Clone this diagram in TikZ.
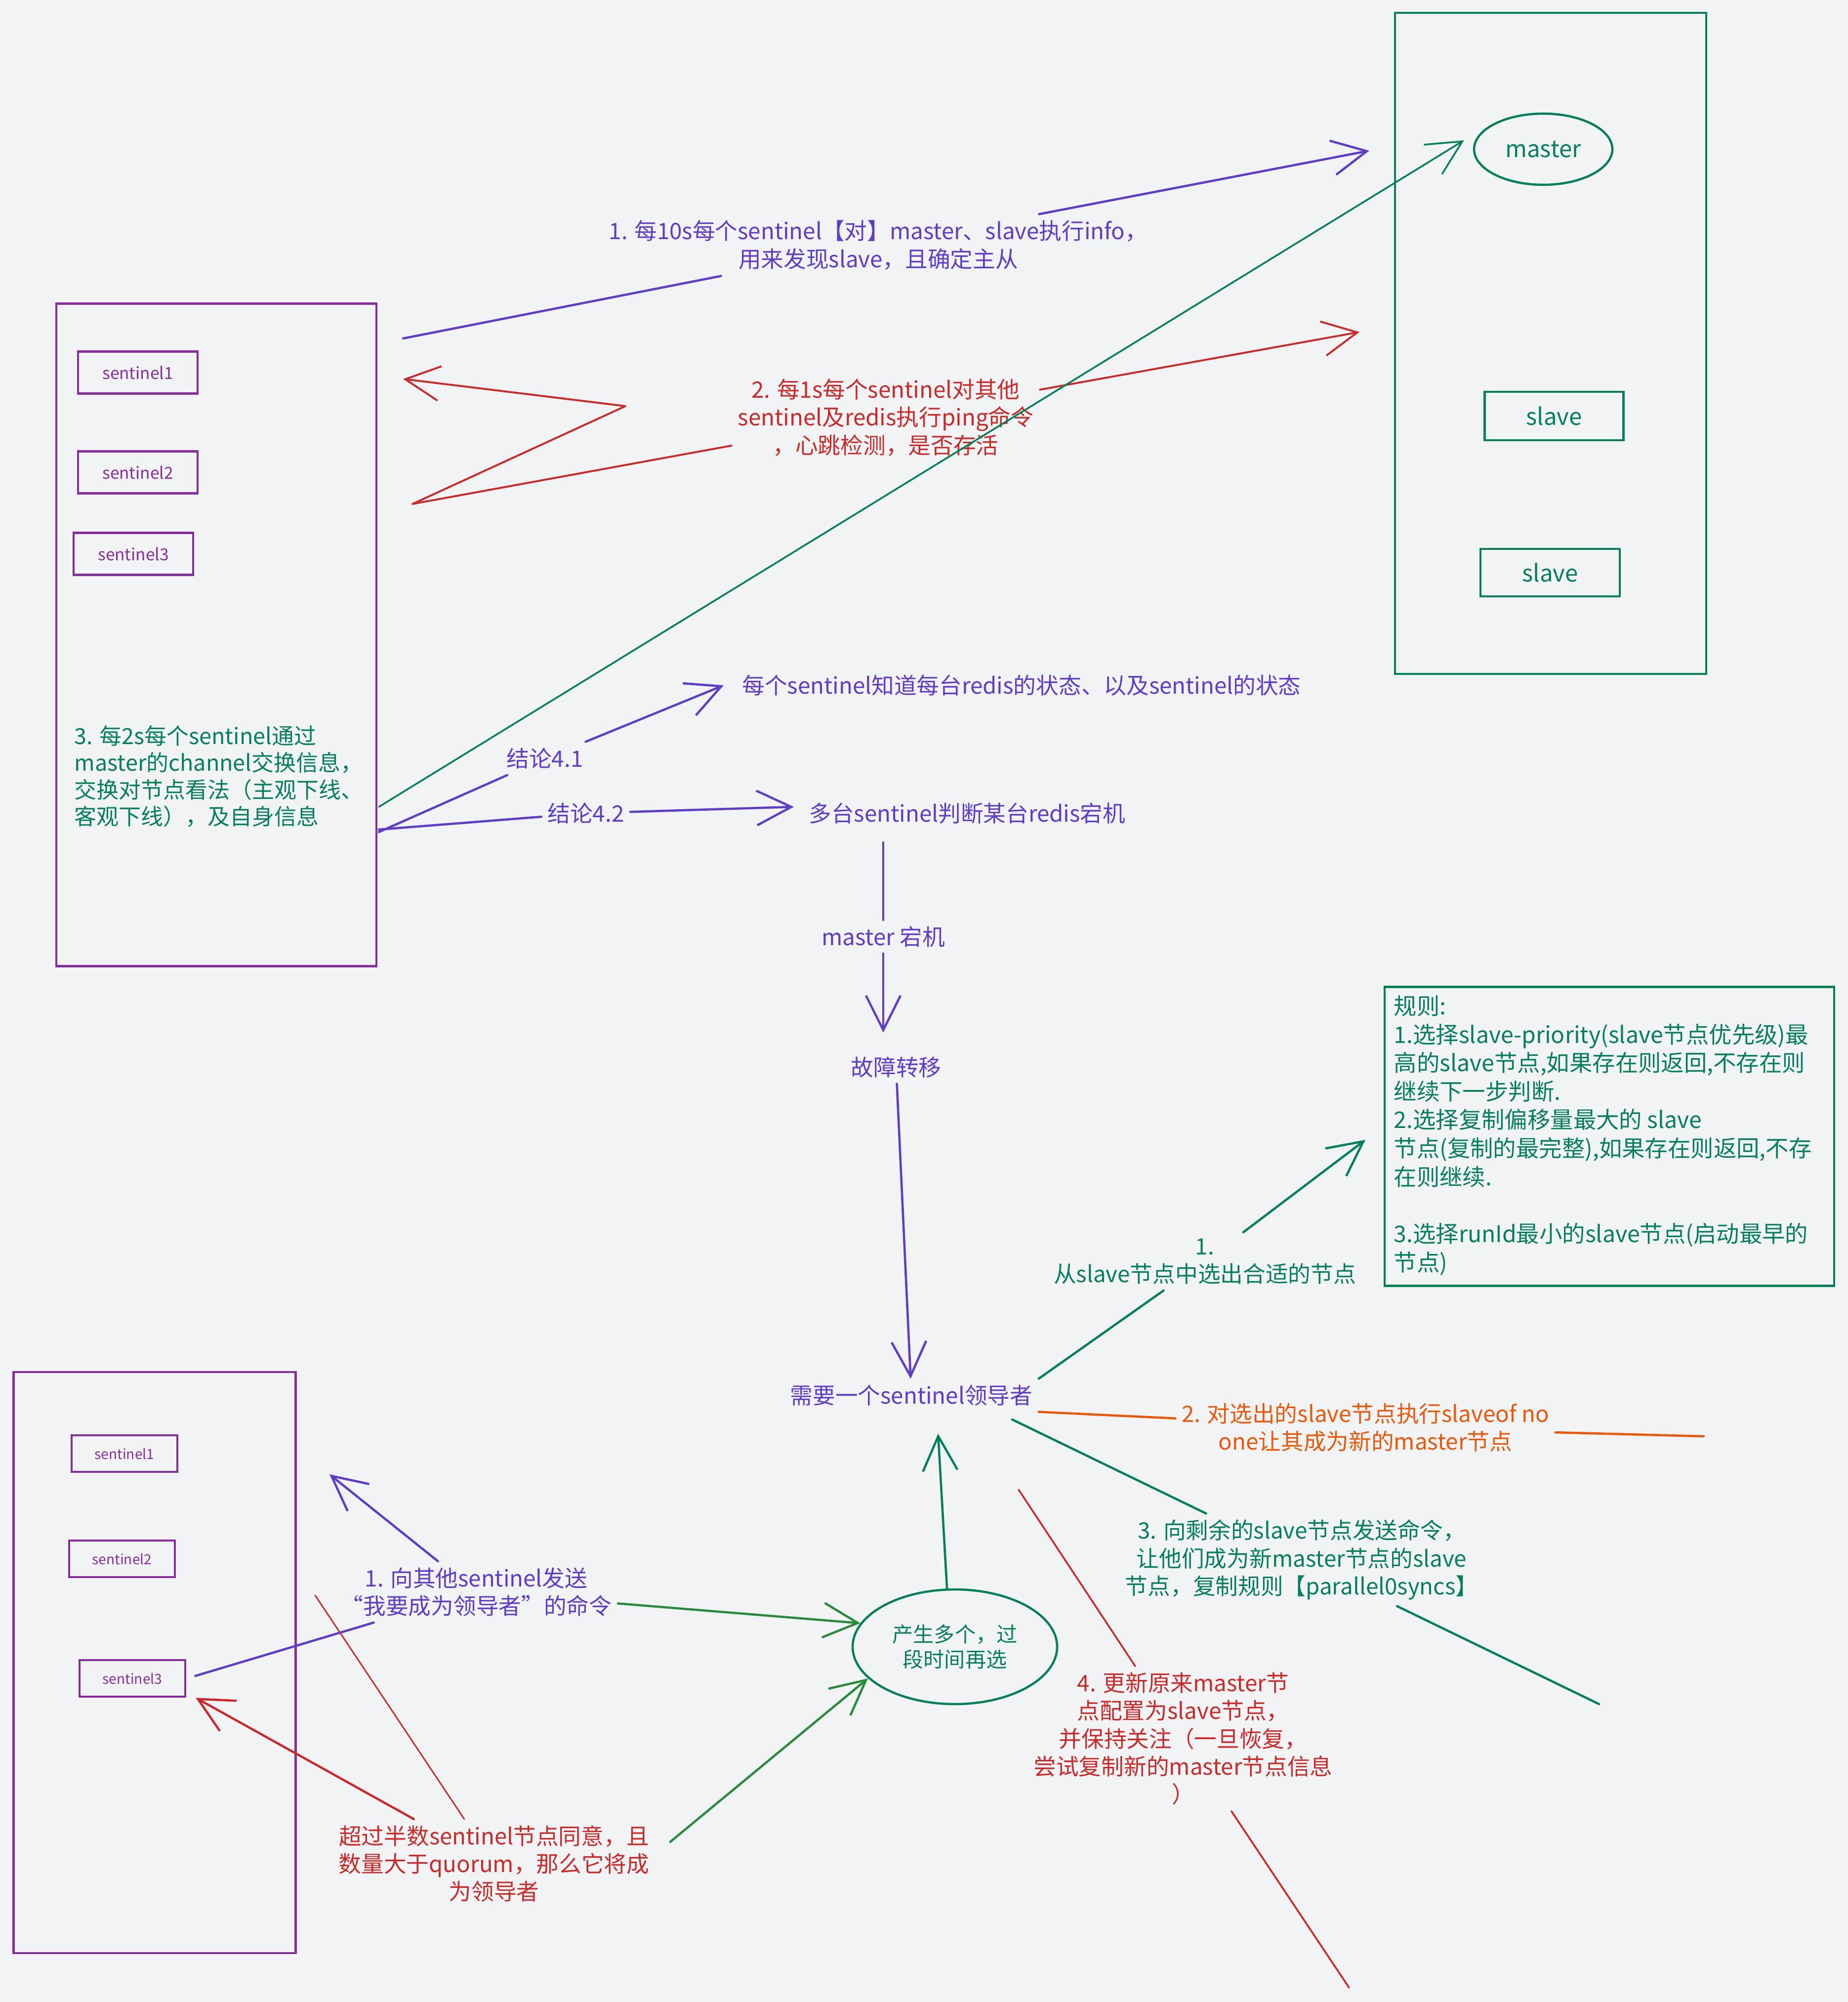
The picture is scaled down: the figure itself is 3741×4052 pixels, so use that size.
\documentclass[tikz,border=0pt]{standalone}
\usepackage{fontspec}
\setmainfont{Noto Sans CJK SC}
\usetikzlibrary{arrows.meta,shapes.geometric,calc}
\definecolor{bg}{HTML}{F1F3F5}
\definecolor{vio}{HTML}{5F3DC4}
\definecolor{grape}{HTML}{862E9C}
\definecolor{tealg}{HTML}{087F5B}
\definecolor{grn}{HTML}{2B8A3E}
\definecolor{rd}{HTML}{C92A2A}
\definecolor{org}{HTML}{E8590C}
\tikzset{
  base/.style={font=\fontsize{13}{16}\selectfont, align=center},
  lbl/.style={base, inner sep=1.2mm},
  arr/.style={-{Straight Barb[length=7mm,width=7mm]}, line cap=round, line join=round, line width=1.3pt},
  ln/.style={line cap=round, line join=round, line width=1.3pt},
  sent/.style={draw=grape, line width=1.3pt, text=grape, minimum width=24.2mm, minimum height=8.5mm, inner sep=0, font=\fontsize{9.5}{11}\selectfont},
  bsent/.style={draw=grape, line width=1.3pt, text=grape, minimum width=21.4mm, minimum height=7.4mm, inner sep=0, font=\fontsize{8}{10}\selectfont},
  rbox/.style={draw=tealg, line width=1.3pt, text=tealg, inner sep=0, font=\fontsize{13.5}{16}\selectfont},
}
\begin{document}
\begin{tikzpicture}[x=0.1mm,y=-0.1mm]
\fill[bg] (0,0) rectangle (3741,4052);
\useasboundingbox (0,0) rectangle (3741,4052);

% ---------- redis group ----------
\node[rbox, minimum width=63mm, minimum height=133.8mm] (redisbox) at (3139,695) {};
\node[rbox, ellipse, minimum width=28mm, minimum height=14.4mm] (master) at (3124,302) {master};
\node[rbox, minimum width=28.1mm, minimum height=9.8mm] (slave1) at (3146,842) {slave};
\node[rbox, minimum width=28.2mm, minimum height=9.6mm] (slave2) at (3138,1159) {slave};

% ---------- sentinel group (top) ----------
\node[draw=grape, line width=1.3pt, minimum width=64.8mm, minimum height=134.1mm] (sbox) at (438,1285) {};
\node[sent] (s1) at (279,754) {sentinel1};
\node[sent] (s2) at (279,956) {sentinel2};
\node[sent] (s3) at (270,1121) {sentinel3};
\node[font=\fontsize{12.8}{15.4}\selectfont, align=left, text=tealg, anchor=north west, inner sep=0] (t3) at (150,1468)
  {3. 每2s每个sentinel通过\\master的channel交换信息，\\交换对节点看法（主观下线、\\客观下线），及自身信息};

% ---------- arrow 1 ----------
\coordinate (a1s) at (816,685);
\coordinate (a1e) at (2772,305);
\node[lbl, text=vio] (l1) at (1778,496) {1. 每10s每个sentinel【对】master、slave执行info，\\用来发现slave，且确定主从};
\draw[arr, vio] (a1s) -- (l1) -- (a1e);

% ---------- arrow 2 ----------
\coordinate (a2s) at (835,1020);
\coordinate (a2m) at (1266,822);
\coordinate (a2t) at (816,767);
\coordinate (a2e) at (2752,672);
\node[lbl, text=rd] (l2) at (1793,845) {2. 每1s每个sentinel对其他\\sentinel及redis执行ping命令\\，心跳检测，是否存活};
\draw[arr, rd, line width=1.1pt] (a2s) -- (l2) -- (a2e);
\draw[arr, rd, line width=1.1pt] (a2s) -- (a2m) -- (a2t);

% ---------- green line to master ----------
\coordinate (gms) at (767,1633);
\draw[arr, tealg, line width=1pt] (gms) -- ($(master.west)+(-18,-18)$);

% ---------- conclusions ----------
\node[base, text=vio, anchor=west] (t41) at (1490,1387) {每个sentinel知道每台redis的状态、以及sentinel的状态};
\node[base, text=vio, anchor=west] (t42) at (1625,1646) {多台sentinel判断某台redis宕机};
\node[lbl, text=vio] (l41) at (1103,1535) {结论4.1};
\node[lbl, text=vio] (l42) at (1186,1646) {结论4.2};
\coordinate (c41) at (767,1684);
\coordinate (c42) at (767,1679);
\draw[arr, vio] (c41) -- (l41) -- ($(t41.west)+(-25,0)$);
\draw[arr, vio] (c42) -- (l42) -- ($(t42.west)+(-18,-13)$);

% ---------- failover chain ----------
\node[lbl, text=vio] (lmw) at (1788,1896) {master 宕机};
\node[base, text=vio] (fail) at (1814,2160) {故障转移};
\coordinate (v1) at (1788,1705);
\coordinate (v2) at (1788,2090);
\draw[arr, vio] (v1) -- (lmw) -- (v2);
\node[base, text=vio] (leader) at (1845,2824) {需要一个sentinel领导者};
\draw[arr, vio] (fail) -- (leader);

% ---------- rules ----------
\node[draw=tealg, line width=1.3pt, minimum width=91mm, minimum height=60.5mm] (rules) at (3258,2300) {};
\node[anchor=north west, align=left, inner sep=0, text=tealg, font=\fontsize{13.2}{16.4}\selectfont] (rtext) at (2821,2014)
  {规则:\\1.选择slave-priority(slave节点优先级)最\\高的slave节点,如果存在则返回,不存在则\\继续下一步判断.\\2.选择复制偏移量最大的 slave\\节点(复制的最完整),如果存在则返回,不存\\在则继续.\\\mbox{}\\3.选择runId最小的slave节点(启动最早的\\节点)};

% ---------- steps from leader ----------
\node[lbl, text=tealg] (lsel) at (2439,2553) {1.\\从slave节点中选出合适的节点};
\coordinate (sel2) at (2764,2307);
\draw[arr, tealg] (leader.north east) -- (lsel) -- (sel2);

\node[lbl, text=org] (lslv) at (2764,2889) {2. 对选出的slave节点执行slaveof no\\one让其成为新的master节点};
\coordinate (oe) at (3449,2907);
\draw[ln, org] (leader.south east) -- (lslv) -- (oe);

\node[lbl, text=tealg] (lrem) at (2635,3157) {3. 向剩余的slave节点发送命令，\\让他们成为新master节点的slave\\节点，复制规则【parallel0syncs】};
\coordinate (rem0) at (2049,2873);
\coordinate (rem1) at (3237,3449);
\draw[ln, tealg] (rem0) -- (lrem) -- (rem1);

\node[lbl, text=rd] (lupd) at (2395,3519) {4. 更新原来master节\\点配置为slave节点，\\并保持关注（一旦恢复，\\尝试复制新的master节点信息\\）};
\coordinate (u0) at (2062,3015);
\coordinate (u1) at (2731,4023);
\draw[ln, rd, line width=1pt] (u0) -- (lupd) -- (u1);

% ---------- re-election ----------
\node[draw=tealg, ellipse, line width=1.3pt, minimum width=41.4mm, minimum height=23.2mm, text=tealg, font=\fontsize{12}{14.5}\selectfont, align=center, inner sep=0] (ell) at (1933,3333) {产生多个，过\\段时间再选};
\draw[arr, tealg] ($(ell.north)+(-16,0)$) -- ($(leader.south)+(54,44)$);

% ---------- sentinel group (bottom) ----------
\node[draw=grape, line width=1.3pt, minimum width=57.1mm, minimum height=117.6mm] (bbox) at (313,3365) {};
\node[bsent] (b1) at (252,2942) {sentinel1};
\node[bsent] (b2) at (247,3155) {sentinel2};
\node[bsent] (b3) at (268,3397) {sentinel3};

\node[lbl, text=vio] (lvote) at (964,3222) {1. 向其他sentinel发送\\“我要成为领导者”的命令};
\coordinate (vt) at (667,2984);
\draw[arr, vio] ($(b3.east)+(18,-5)$) -- (lvote) -- (vt);
\draw[arr, grn] (lvote) -- (ell.166);

\node[lbl, text=rd] (lq) at (1000,3772) {超过半数sentinel节点同意，且\\数量大于quorum，那么它将成\\为领导者};
\draw[arr, rd] (lq) -- ($(b3.south east)+(19,0)$);
\coordinate (qx) at (638,3229);
\draw[ln, rd, line width=0.8pt] (lq) -- (qx);
\draw[arr, grn] ($(lq.north east)+(30,46)$) -- (ell.200);
\end{tikzpicture}
\end{document}
